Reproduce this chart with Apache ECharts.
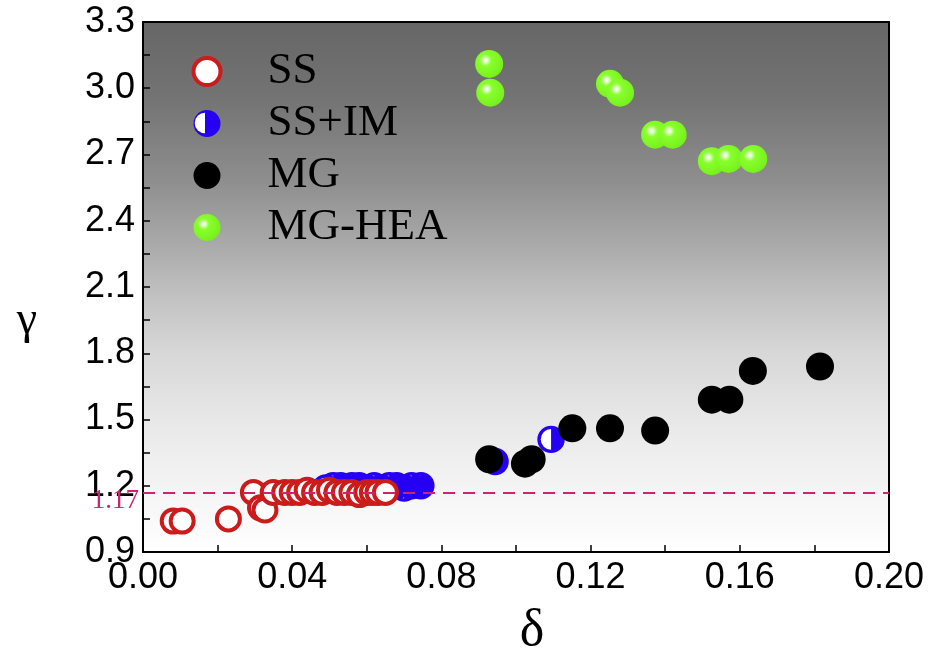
<!DOCTYPE html>
<html>
<head>
<meta charset="utf-8">
<script src="https://cdn.jsdelivr.net/npm/echarts@6/dist/echarts.min.js"></script>
<style>
  html, body { margin: 0; padding: 0; background: #fff; }
  #chart { width: 931px; height: 654px; }
</style>
</head>
<body>
<div id="chart"></div>
<script>
// Phase map: atomic size difference (delta) vs. packing parameter (gamma)
const seriesNames = ['SS', 'SS+IM', 'MG', 'MG-HEA'];

// SS: solid solutions
const ssDelta = [0.0081, 0.0105, 0.0229, 0.0296, 0.0315, 0.0327, 0.0349, 0.0380, 0.0400, 0.0420,
                 0.0440, 0.0460, 0.0480, 0.0500, 0.0520, 0.0540, 0.0560, 0.0580, 0.0600, 0.0615,
                 0.0630, 0.0650];
const ssGamma = [1.04, 1.04, 1.05, 1.17, 1.10, 1.09, 1.17, 1.17, 1.17, 1.17,
                 1.18, 1.17, 1.17, 1.18, 1.17, 1.17, 1.17, 1.16, 1.17, 1.17,
                 1.17, 1.17];

// SS+IM: solid solution + intermetallics
const ssimDelta = [0.0490, 0.0510, 0.0530, 0.0545, 0.0560, 0.0580, 0.0600, 0.0620, 0.0640, 0.0660,
                   0.0680, 0.0700, 0.0720, 0.0745, 0.0944, 0.1094];
const ssimGamma = [1.19, 1.20, 1.20, 1.19, 1.20, 1.20, 1.19, 1.20, 1.19, 1.20,
                   1.20, 1.19, 1.20, 1.20, 1.31, 1.41];

// MG: metallic glasses
const mgDelta = [0.0928, 0.1024, 0.1042, 0.1151, 0.1252, 0.1373, 0.1525, 0.1572, 0.1635, 0.1815];
const mgGamma = [1.32, 1.30, 1.32, 1.46, 1.46, 1.45, 1.59, 1.59, 1.72, 1.74];

// MG-HEA: high-entropy metallic glasses
const heaDelta = [0.0928, 0.0931, 0.1252, 0.1279, 0.1373, 0.1420, 0.1525, 0.1570, 0.1636];
const heaGamma = [3.11, 2.98, 3.02, 2.98, 2.79, 2.79, 2.67, 2.68, 2.68];

// Threshold line
const cutoffGamma = 1.17;
const cutoffLabel = '1.17';

// Axis ranges and ticks
const xMin = 0, xMax = 0.20, xStep = 0.04;
const yMin = 0.9, yMax = 3.3, yStep = 0.3;

const RED = '#cc1b1b';
const BLUE = '#2500f2';
const BLACK = '#000000';
const LINE_PINK = '#d3206f';

const zip = (xs, ys) => xs.map((x, i) => [x, ys[i]]);

// SS+IM markers are painted right-to-left so each disc hides its neighbour's white half
const ssimData = zip(ssimDelta, ssimGamma).sort((a, b) => b[0] - a[0]);

const greenBall = {
  type: 'radial', x: 0.37, y: 0.37, r: 0.66,
  colorStops: [
    { offset: 0, color: '#ffffff' },
    { offset: 0.12, color: '#dcffc0' },
    { offset: 0.32, color: '#88ff2c' },
    { offset: 1, color: '#76f01c' }
  ]
};

const plotBackground = {
  type: 'linear', x: 0, y: 0, x2: 0, y2: 1,
  colorStops: [
    { offset: 0, color: '#666666' },
    { offset: 0.15, color: '#747474' },
    { offset: 0.3, color: '#8e8e8e' },
    { offset: 0.43, color: '#acacac' },
    { offset: 0.52, color: '#c2c2c2' },
    { offset: 0.62, color: '#d7d7d7' },
    { offset: 0.76, color: '#e9e9e9' },
    { offset: 0.88, color: '#f4f4f4' },
    { offset: 1, color: '#ffffff' }
  ]
};

const tickLabelFont = 'Liberation Sans, Arial, sans-serif';
const serifFont = 'Liberation Serif, Times New Roman, serif';

const chart = echarts.init(document.getElementById('chart'), null, { renderer: 'canvas' });

const option = {
  animation: false,
  backgroundColor: '#ffffff',
  grid: {
    left: 143, right: 42, top: 22, bottom: 102,
    outerBoundsMode: 'none',
    containLabel: false,
    show: true,
    backgroundColor: plotBackground,
    borderColor: '#000', borderWidth: 2
  },
  xAxis: {
    type: 'value', min: xMin, max: xMax, interval: xStep,
    name: 'δ', nameLocation: 'middle', nameGap: 53,
    nameTextStyle: { fontFamily: serifFont, fontSize: 52, color: '#000', padding: [0, 0, 0, 32] },
    axisLine: { show: true, onZero: false, lineStyle: { color: '#000', width: 2 } },
    axisTick: { show: true, inside: true, length: 7, lineStyle: { color: '#000', width: 1.5 } },
    minorTick: { show: true, splitNumber: 2, length: 7, lineStyle: { color: '#000', width: 1.5 } },
    splitLine: { show: false },
    axisLabel: {
      margin: 8, color: '#000', fontFamily: tickLabelFont, fontSize: 36,
      formatter: v => v.toFixed(2)
    }
  },
  yAxis: {
    type: 'value', min: yMin, max: yMax, interval: yStep,
    name: 'γ', nameLocation: 'middle', nameGap: 116, nameRotate: 0,
    nameTextStyle: { fontFamily: serifFont, fontSize: 46, color: '#000', align: 'center', verticalAlign: 'top', lineHeight: 68 },
    axisLine: { show: true, onZero: false, lineStyle: { color: '#000', width: 2 } },
    axisTick: { show: true, inside: true, length: 7, lineStyle: { color: '#000', width: 1.5 } },
    minorTick: { show: true, splitNumber: 2, length: 7, lineStyle: { color: '#000', width: 1.5 } },
    splitLine: { show: false },
    axisLabel: {
      margin: 8, color: '#000', fontFamily: tickLabelFont, fontSize: 36,
      formatter: v => v.toFixed(1)
    }
  },
  legend: {
    orient: 'vertical', left: 191.5, top: 49, padding: 0,
    itemWidth: 27, itemHeight: 27, itemGap: 7,
    selectedMode: false,
    formatter: name => '{t|' + name + '}',
    textStyle: {
      color: '#000',
      rich: { t: { fontFamily: serifFont, fontSize: 45, color: '#000', lineHeight: 40, padding: [0, 0, 0, 42] } }
    },
    data: [
      { name: 'SS', icon: 'circle', itemStyle: { color: '#fff', borderColor: RED, borderWidth: 4 } },
      { name: 'SS+IM', icon: 'circle', itemStyle: { color: BLUE, borderWidth: 0 } },
      { name: 'MG', icon: 'circle', itemStyle: { color: BLACK, borderWidth: 0 } },
      { name: 'MG-HEA', icon: 'circle', itemStyle: { color: greenBall, borderWidth: 0 } }
    ]
  },
  // white half of the SS+IM legend key
  graphic: [{
    type: 'sector', z: 100, silent: true,
    shape: { cx: 205, cy: 123, r0: 0, r: 10.3, startAngle: Math.PI / 2, endAngle: Math.PI * 1.5 },
    style: { fill: '#fff' }
  }],
  series: [
    {
      name: seriesNames[1], type: 'custom', z: 2,
      itemStyle: { color: BLUE },
      data: ssimData,
      renderItem: (params, api) => {
        const p = api.coord([api.value(0), api.value(1)]);
        return {
          type: 'group',
          children: [
            { type: 'circle', shape: { cx: p[0], cy: p[1], r: 13.7 }, style: { fill: BLUE } },
            { type: 'sector', shape: { cx: p[0], cy: p[1], r0: 0, r: 10.3, startAngle: Math.PI / 2, endAngle: Math.PI * 1.5 }, style: { fill: '#fff' } }
          ]
        };
      }
    },
    {
      name: seriesNames[0], type: 'scatter', z: 3,
      symbol: 'circle', symbolSize: 23,
      itemStyle: { color: '#fff', borderColor: RED, borderWidth: 4, opacity: 1 },
      data: zip(ssDelta, ssGamma)
    },
    {
      name: seriesNames[2], type: 'scatter', z: 4,
      symbol: 'circle', symbolSize: 28,
      itemStyle: { color: BLACK, opacity: 1 },
      data: zip(mgDelta, mgGamma)
    },
    {
      name: seriesNames[3], type: 'scatter', z: 5,
      symbol: 'circle', symbolSize: 28,
      itemStyle: { color: greenBall, opacity: 1 },
      data: zip(heaDelta, heaGamma),
      markLine: {
        silent: true, symbol: 'none', animation: false,
        lineStyle: { color: LINE_PINK, width: 2, type: [12, 8] },
        label: {
          show: true, position: 'start', distance: 4,
          formatter: '{v|' + cutoffLabel + '}',
          rich: { v: { color: LINE_PINK, fontFamily: serifFont, fontSize: 27, padding: [18, 0, 0, 0] } }
        },
        data: [{ yAxis: cutoffGamma }]
      }
    }
  ]
};

chart.setOption(option);
</script>
</body>
</html>
